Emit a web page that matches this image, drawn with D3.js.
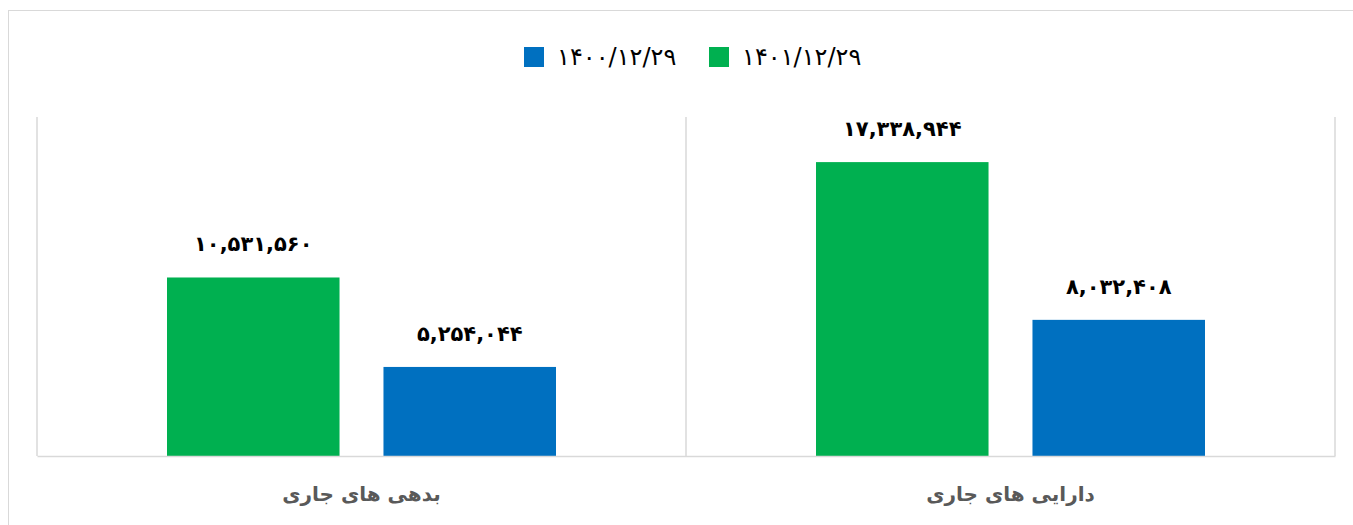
<!DOCTYPE html>
<html>
<head>
<meta charset="utf-8">
<script src="https://cdn.jsdelivr.net/npm/d3@7/dist/d3.min.js"></script>
<style>
  body { margin: 0; background: #fff; }
  svg { display: block; font-family: "DejaVu Sans", sans-serif; }
</style>
</head>
<body>
<svg id="chart" width="1353" height="525"></svg>
<script>
// categories, right to left like the original sheet
var categories = ["دارایی های جاری", "بدهی های جاری"];
var seriesNames = ["۱۴۰۱/۱۲/۲۹", "۱۴۰۰/۱۲/۲۹"];
var values1401 = [17338944, 10531560];
var values1400 = [8032408, 5254044];
var labels1401 = ["۱۷,۳۳۸,۹۴۴", "۱۰,۵۳۱,۵۶۰"];
var labels1400 = ["۸,۰۳۲,۴۰۸", "۵,۲۵۴,۰۴۴"];
var legendOrder = ["۱۴۰۰/۱۲/۲۹", "۱۴۰۱/۱۲/۲۹"];
var colors = {"۱۴۰۱/۱۲/۲۹": "#00b050", "۱۴۰۰/۱۲/۲۹": "#0070c0"};

var svg = d3.select("#chart");
var plot = {left: 37, right: 1335, top: 117, bottom: 456};

// outer chart border
svg.append("rect")
  .attr("x", 8.5).attr("y", 10.5)
  .attr("width", 1360).attr("height", 540)
  .attr("fill", "none").attr("stroke", "#d9d9d9");

// reversed category axis (first category on the right)
var x0 = d3.scaleBand()
  .domain(categories.slice().reverse())
  .range([plot.left, plot.right]);

var x1 = d3.scaleBand()
  .domain(seriesNames)
  .range([130, x0.bandwidth() - 130])
  .paddingInner(0.203);

var y = d3.scaleLinear().domain([0, 20000000]).range([plot.bottom, plot.top]);

// table built from the arrays
var rows = categories.map(function(c, i) {
  return {cat: c, bars: [
    {s: seriesNames[0], v: values1401[i], label: labels1401[i]},
    {s: seriesNames[1], v: values1400[i], label: labels1400[i]}
  ]};
});

// frame lines: verticals at the category edges, plus the baseline
var edges = x0.domain().map(function(c) { return x0(c); }).concat([plot.right]);
svg.append("g").selectAll("line")
  .data(edges)
  .enter().append("line")
    .attr("x1", function(d) { return d; })
    .attr("x2", function(d) { return d; })
    .attr("y1", y(20000000)).attr("y2", y(0))
    .attr("stroke", "#d9d9d9").attr("stroke-width", 1.5);

var group = svg.append("g").selectAll("g")
  .data(rows)
  .enter().append("g")
    .attr("transform", function(d) { return "translate(" + x0(d.cat) + ",0)"; });

group.selectAll("rect")
  .data(function(d) { return d.bars; })
  .enter().append("rect")
    .attr("x", function(d) { return x1(d.s); })
    .attr("y", function(d) { return y(d.v); })
    .attr("width", x1.bandwidth())
    .attr("height", function(d) { return y(0) - y(d.v); })
    .attr("fill", function(d) { return colors[d.s]; });

group.selectAll("text")
  .data(function(d) { return d.bars; })
  .enter().append("text")
    .attr("x", function(d) { return x1(d.s) + x1.bandwidth() / 2; })
    .attr("y", function(d) { return y(d.v) - 26; })
    .attr("text-anchor", "middle")
    .attr("font-size", 21)
    .attr("font-weight", "bold")
    .attr("fill", "#000")
    .text(function(d) { return d.label; });

// baseline + category labels
var xAxis = svg.append("g")
  .attr("transform", "translate(0," + plot.bottom + ")")
  .call(d3.axisBottom(x0).tickSize(0).tickPadding(31));
xAxis.select(".domain").attr("stroke", "#d9d9d9").attr("stroke-width", 1.5);
xAxis.selectAll("text")
  .attr("font-family", "DejaVu Sans, sans-serif")
  .attr("font-size", 20)
  .attr("font-weight", "bold")
  .attr("fill", "#595959");

// legend
var legend = svg.append("g").selectAll("g")
  .data(legendOrder)
  .enter().append("g")
    .attr("transform", function(d, i) { return "translate(" + (524 + i * 185) + ",47)"; });
legend.append("rect")
  .attr("width", 20).attr("height", 20)
  .attr("fill", function(d) { return colors[d]; });
legend.append("text")
  .attr("x", 33).attr("y", 18)
  .attr("font-size", 24)
  .attr("fill", "#000")
  .text(function(d) { return d; });
</script>
</body>
</html>
